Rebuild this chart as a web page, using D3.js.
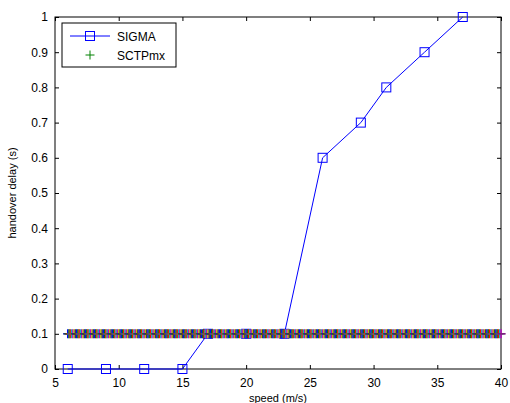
<!DOCTYPE html>
<html>
<head>
<meta charset="utf-8">
<script src="https://cdn.jsdelivr.net/npm/d3@7"></script>
<style>
  body { margin: 0; background: #fff; }
  svg { display: block; font-family: "Liberation Sans", Arial, sans-serif; }
</style>
</head>
<body>
<div id="chart"></div>
<script>
// SIGMA: handover delay vs speed
const sigmaSpeed = [6, 9, 12, 15, 17, 20, 23, 26, 29, 31, 34, 37];
const sigmaDelay = [0, 0, 0, 0, 0.1, 0.1, 0.1, 0.6, 0.7, 0.8, 0.9, 1.0];

// SCTPmx: dense samples, constant 0.1 s
const sctpSpeed = [
  6, 6.1, 6.2, 6.3, 6.4, 6.5, 6.6, 6.7, 6.8, 6.9,
  7, 7.1, 7.2, 7.3, 7.4, 7.5, 7.6, 7.7, 7.8, 7.9,
  8, 8.1, 8.2, 8.3, 8.4, 8.5, 8.6, 8.7, 8.8, 8.9,
  9, 9.1, 9.2, 9.3, 9.4, 9.5, 9.6, 9.7, 9.8, 9.9,
  10, 10.1, 10.2, 10.3, 10.4, 10.5, 10.6, 10.7, 10.8, 10.9,
  11, 11.1, 11.2, 11.3, 11.4, 11.5, 11.6, 11.7, 11.8, 11.9,
  12, 12.1, 12.2, 12.3, 12.4, 12.5, 12.6, 12.7, 12.8, 12.9,
  13, 13.1, 13.2, 13.3, 13.4, 13.5, 13.6, 13.7, 13.8, 13.9,
  14, 14.1, 14.2, 14.3, 14.4, 14.5, 14.6, 14.7, 14.8, 14.9,
  15, 15.1, 15.2, 15.3, 15.4, 15.5, 15.6, 15.7, 15.8, 15.9,
  16, 16.1, 16.2, 16.3, 16.4, 16.5, 16.6, 16.7, 16.8, 16.9,
  17, 17.1, 17.2, 17.3, 17.4, 17.5, 17.6, 17.7, 17.8, 17.9,
  18, 18.1, 18.2, 18.3, 18.4, 18.5, 18.6, 18.7, 18.8, 18.9,
  19, 19.1, 19.2, 19.3, 19.4, 19.5, 19.6, 19.7, 19.8, 19.9,
  20, 20.1, 20.2, 20.3, 20.4, 20.5, 20.6, 20.7, 20.8, 20.9,
  21, 21.1, 21.2, 21.3, 21.4, 21.5, 21.6, 21.7, 21.8, 21.9,
  22, 22.1, 22.2, 22.3, 22.4, 22.5, 22.6, 22.7, 22.8, 22.9,
  23, 23.1, 23.2, 23.3, 23.4, 23.5, 23.6, 23.7, 23.8, 23.9,
  24, 24.1, 24.2, 24.3, 24.4, 24.5, 24.6, 24.7, 24.8, 24.9,
  25, 25.1, 25.2, 25.3, 25.4, 25.5, 25.6, 25.7, 25.8, 25.9,
  26, 26.1, 26.2, 26.3, 26.4, 26.5, 26.6, 26.7, 26.8, 26.9,
  27, 27.1, 27.2, 27.3, 27.4, 27.5, 27.6, 27.7, 27.8, 27.9,
  28, 28.1, 28.2, 28.3, 28.4, 28.5, 28.6, 28.7, 28.8, 28.9,
  29, 29.1, 29.2, 29.3, 29.4, 29.5, 29.6, 29.7, 29.8, 29.9,
  30, 30.1, 30.2, 30.3, 30.4, 30.5, 30.6, 30.7, 30.8, 30.9,
  31, 31.1, 31.2, 31.3, 31.4, 31.5, 31.6, 31.7, 31.8, 31.9,
  32, 32.1, 32.2, 32.3, 32.4, 32.5, 32.6, 32.7, 32.8, 32.9,
  33, 33.1, 33.2, 33.3, 33.4, 33.5, 33.6, 33.7, 33.8, 33.9,
  34, 34.1, 34.2, 34.3, 34.4, 34.5, 34.6, 34.7, 34.8, 34.9,
  35, 35.1, 35.2, 35.3, 35.4, 35.5, 35.6, 35.7, 35.8, 35.9,
  36, 36.1, 36.2, 36.3, 36.4, 36.5, 36.6, 36.7, 36.8, 36.9,
  37, 37.1, 37.2, 37.3, 37.4, 37.5, 37.6, 37.7, 37.8, 37.9,
  38, 38.1, 38.2, 38.3, 38.4, 38.5, 38.6, 38.7, 38.8, 38.9,
  39, 39.1, 39.2, 39.3, 39.4, 39.5, 39.6, 39.7, 39.8, 39.9,
  40
];
const sctpDelay = 0.1;

// matlab default colour order
const colorOrder = ['#0000ff', '#008000', '#ff0000', '#00bfbf', '#bf00bf', '#bfbf00', '#404040'];

const xTicks = [5, 10, 15, 20, 25, 30, 35, 40];
const yTicks = [0, 0.1, 0.2, 0.3, 0.4, 0.5, 0.6, 0.7, 0.8, 0.9, 1];

const W = 510, H = 403;
const margin = { top: 17, right: 9, bottom: 34, left: 55 };
const width = W - margin.left - margin.right;
const height = H - margin.top - margin.bottom;

const svg = d3.select('#chart').append('svg')
  .attr('width', W)
  .attr('height', H);

const g = svg.append('g').attr('transform', `translate(${margin.left},${margin.top})`);

const x = d3.scaleLinear().domain([5, 40]).range([0, width]);
const y = d3.scaleLinear().domain([0, 1]).range([height, 0]);

// axes (ticks point inwards, box on)
const axisStyle = sel => {
  sel.selectAll('.domain').remove();
  sel.selectAll('text').attr('font-size', 12).attr('fill', '#000')
    .attr('font-family', '"Liberation Sans", Arial, sans-serif');
  sel.selectAll('line').attr('stroke', '#000');
};

g.append('g')
  .attr('transform', `translate(0,${height})`)
  .call(d3.axisBottom(x).tickValues(xTicks).tickFormat(d3.format('d')).tickSizeInner(-4).tickPadding(9))
  .call(axisStyle);

g.append('g')
  .call(d3.axisLeft(y).tickValues(yTicks).tickFormat(d => d === 0 || d === 1 ? d : d3.format('.1f')(d)).tickSizeInner(-4).tickPadding(7))
  .call(axisStyle);

g.append('g')
  .call(d3.axisTop(x).tickValues(xTicks).tickSizeInner(-4).tickFormat(''))
  .call(axisStyle);

g.append('g')
  .attr('transform', `translate(${width},0)`)
  .call(d3.axisRight(y).tickValues(yTicks).tickSizeInner(-4).tickFormat(''))
  .call(axisStyle);

g.append('rect')
  .attr('width', width).attr('height', height)
  .attr('fill', 'none').attr('stroke', '#000').attr('stroke-width', 1);

// SIGMA line + squares
const sigma = sigmaSpeed.map((s, i) => ({ s, d: sigmaDelay[i] }));
g.append('path')
  .datum(sigma)
  .attr('fill', 'none')
  .attr('stroke', '#0000ff')
  .attr('stroke-width', 1)
  .attr('d', d3.line().x(d => x(d.s)).y(d => y(d.d)));

g.selectAll('.sq')
  .data(sigma)
  .join('rect')
  .attr('class', 'sq')
  .attr('x', d => x(d.s) - 4.5)
  .attr('y', d => y(d.d) - 4.5)
  .attr('width', 9).attr('height', 9)
  .attr('fill', 'none')
  .attr('stroke', '#0000ff')
  .attr('stroke-width', 1);

// SCTPmx: dense '+' markers
const plus = g.append('g');
sctpSpeed.forEach((s, i) => {
  const cx = x(s), cy = y(sctpDelay);
  const c = colorOrder[i % colorOrder.length];
  plus.append('path')
    .attr('d', `M${cx - 4.5},${cy}H${cx + 4.5}M${cx},${cy - 4.5}V${cy + 4.5}`)
    .attr('stroke', c)
    .attr('stroke-width', 1.5)
    .attr('fill', 'none');
});
// dark centre stroke of the band
g.append('line')
  .attr('x1', x(sctpSpeed[0]) - 4.5).attr('x2', x(sctpSpeed[sctpSpeed.length - 1]) + 4.5)
  .attr('y1', y(sctpDelay)).attr('y2', y(sctpDelay))
  .attr('stroke', '#404040').attr('stroke-width', 1.2).attr('opacity', 0.7);

// legend
const lg = g.append('g').attr('transform', 'translate(7,6)');
lg.append('rect')
  .attr('width', 114).attr('height', 44)
  .attr('fill', '#fff').attr('stroke', '#000').attr('stroke-width', 1);
lg.append('line')
  .attr('x1', 8).attr('x2', 48).attr('y1', 13).attr('y2', 13)
  .attr('stroke', '#0000ff');
lg.append('rect')
  .attr('x', 28 - 4.5).attr('y', 13 - 4.5).attr('width', 9).attr('height', 9)
  .attr('fill', 'none').attr('stroke', '#0000ff');
lg.append('path')
  .attr('d', 'M23.5,32H32.5M28,27.5V36.5')
  .attr('stroke', '#008000').attr('fill', 'none');
lg.append('text').attr('x', 55).attr('y', 17.5).attr('font-size', 12).text('SIGMA');
lg.append('text').attr('x', 55).attr('y', 36.5).attr('font-size', 12).text('SCTPmx');

// axis labels
svg.append('text')
  .attr('x', margin.left + width / 2)
  .attr('y', 402)
  .attr('text-anchor', 'middle')
  .attr('font-size', 11)
  .text('speed (m/s)');

svg.append('text')
  .attr('transform', `translate(16,${margin.top + height / 2}) rotate(-90)`)
  .attr('text-anchor', 'middle')
  .attr('font-size', 11)
  .text('handover delay (s)');
</script>
</body>
</html>
